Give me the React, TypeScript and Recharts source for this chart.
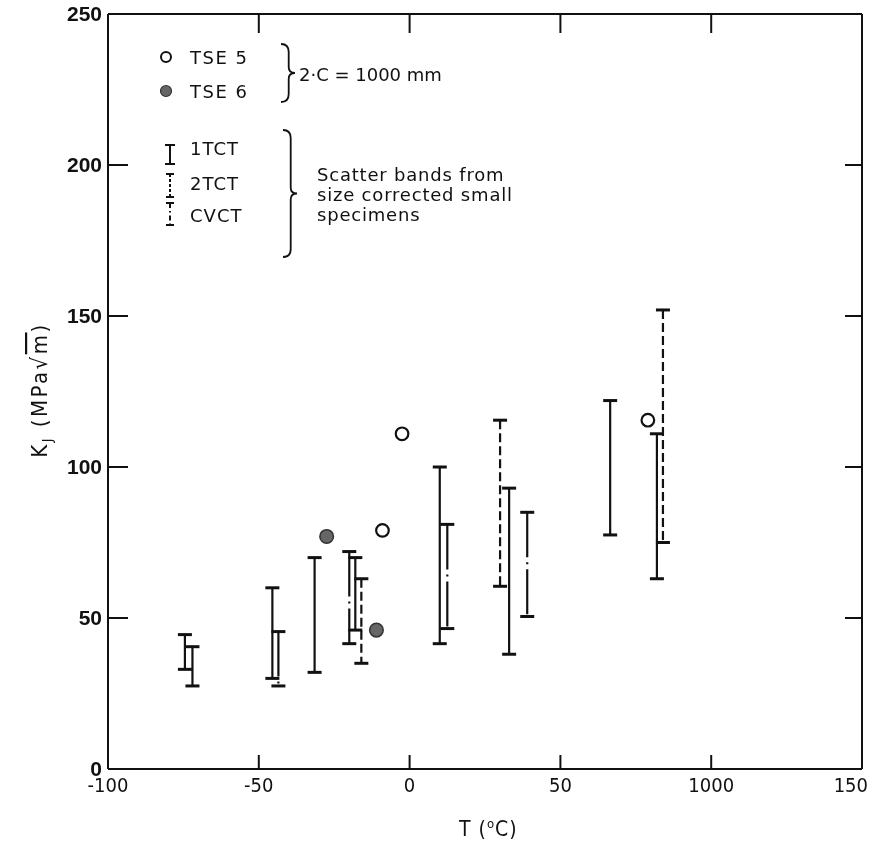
import React from "react";
import { ScatterChart, Scatter, XAxis, YAxis } from "recharts";

// scatter bands (size corrected small specimens): T in °C, lower / upper K_J
const tct1T = [-72, -45.5, -31.5, -18, 10, 33, 66.5, 82];
const tct1Low = [27.5, 30, 32, 46, 41.5, 38, 77.5, 63];
const tct1High = [40.5, 60, 70, 70, 100, 93, 122, 111];

const tct2T = [-16, 30, 84];
const tct2Low = [35, 60.5, 75];
const tct2High = [63, 115.5, 152];

const cvctT = [-74.5, -43.5, -20, 12.5, 39];
const cvctLow = [33, 27.5, 41.5, 46.5, 50.5];
const cvctHigh = [44.5, 45.5, 72, 81, 85];

// large specimens
const tse5T = [-9, -2.5, 79];
const tse5K = [79, 111, 115.5];
const tse6T = [-27.5, -11];
const tse6K = [77, 46];

const xTicks = [-100, -50, 0, 50, 100, 150];
const xTickLabels = ["-100", "-50", "0", "50", "1000", "150"];
const yTicks = [0, 50, 100, 150, 200, 250];

const INK = "#111";
const COND = "'DejaVu Sans Condensed', 'DejaVu Sans', sans-serif";

// each band is drawn top to bottom so the dash pattern starts at the upper cap
const makeBands = (t: number[], lo: number[], hi: number[], dash: string, name: string) =>
  t.map((x, i) => ({
    key: `${name}-${i}`,
    dash,
    data: [
      { t: x, k: hi[i] },
      { t: x, k: lo[i] },
    ],
  }));

const bands = [
  ...makeBands(tct1T, tct1Low, tct1High, "", "1tct"),
  ...makeBands(tct2T, tct2Low, tct2High, "9 4", "2tct"),
  ...makeBands(cvctT, cvctLow, cvctHigh, "45 5 2 5", "cvct"),
];

const tse5 = tse5T.map((t, i) => ({ t, k: tse5K[i] }));
const tse6 = tse6T.map((t, i) => ({ t, k: tse6K[i] }));

const Cap = (props: any) => {
  const { cx, cy } = props;
  return <line x1={cx - 7} x2={cx + 7} y1={cy} y2={cy} stroke={INK} strokeWidth={3} />;
};

const OpenDot = (props: any) => (
  <circle cx={props.cx} cy={props.cy} r={6.3} fill="#fff" stroke={INK} strokeWidth={2.2} />
);

const FilledDot = (props: any) => (
  <circle cx={props.cx} cy={props.cy} r={6.8} fill="#666" stroke="#333" strokeWidth={1.5} />
);

const NoLabel = () => null;

const XTick = (props: any) => {
  const { x, y, payload } = props;
  const last = payload.value === 150;
  return (
    <text
      x={last ? x + 6 : x}
      y={y}
      dy="0.71em"
      textAnchor={last ? "end" : "middle"}
      fill={INK}
      fontSize={20}
      fontFamily={COND}
    >
      {xTickLabels[xTicks.indexOf(payload.value)]}
    </text>
  );
};

// right-facing curly brace
const brace = (x: number, y1: number, y2: number, w: number) => {
  const ym = (y1 + y2) / 2;
  const xm = x + w * 0.55;
  return `M ${x} ${y1} Q ${xm} ${y1} ${xm} ${y1 + 8} L ${xm} ${ym - 6} Q ${xm} ${ym} ${x + w} ${ym} Q ${xm} ${ym} ${xm} ${ym + 6} L ${xm} ${y2 - 8} Q ${xm} ${y2} ${x} ${y2}`;
};

const legendFont = { fontFamily: "'DejaVu Sans', sans-serif", fontSize: 18, fill: INK };

const Overlay = () => (
  <svg
    width={872}
    height={842}
    style={{ position: "absolute", left: 0, top: 0, pointerEvents: "none" }}
  >
    {/* TSE legend */}
    <circle cx={166} cy={57} r={5} fill="#fff" stroke={INK} strokeWidth={2} />
    <text x={190} y={64} {...legendFont} letterSpacing={1.5}>TSE 5</text>
    <circle cx={166} cy={91} r={5.5} fill="#666" stroke="#333" strokeWidth={1.2} />
    <text x={190} y={98} {...legendFont} letterSpacing={1.5}>TSE 6</text>
    <path d={brace(281, 44, 102, 14)} fill="none" stroke={INK} strokeWidth={1.8} />
    <text x={299} y={81} {...legendFont}>2·C = 1000 mm</text>

    {/* scatter band legend */}
    <line x1={170} x2={170} y1={145} y2={164} stroke={INK} strokeWidth={2} />
    <line x1={165} x2={175} y1={145} y2={145} stroke={INK} strokeWidth={2} />
    <line x1={165} x2={175} y1={164} y2={164} stroke={INK} strokeWidth={2} />
    <text x={190} y={155} {...legendFont} letterSpacing={1}>1TCT</text>

    <line x1={170} x2={170} y1={174} y2={197} stroke={INK} strokeWidth={2} strokeDasharray="3 2" />
    <line x1={166} x2={174} y1={174} y2={174} stroke={INK} strokeWidth={2} />
    <line x1={166} x2={174} y1={197} y2={197} stroke={INK} strokeWidth={2} />
    <text x={190} y={190} {...legendFont} letterSpacing={1}>2TCT</text>

    <line x1={170} x2={170} y1={203} y2={225} stroke={INK} strokeWidth={2} strokeDasharray="5 3 1.5 3" />
    <line x1={166} x2={174} y1={203} y2={203} stroke={INK} strokeWidth={2} />
    <line x1={166} x2={174} y1={225} y2={225} stroke={INK} strokeWidth={2} />
    <text x={190} y={222} {...legendFont} letterSpacing={1}>CVCT</text>

    <path d={brace(283, 130, 257, 14)} fill="none" stroke={INK} strokeWidth={1.8} />
    <text x={317} y={181} {...legendFont} letterSpacing={0.8}>Scatter bands from</text>
    <text x={317} y={201} {...legendFont} letterSpacing={0.8}>size corrected small</text>
    <text x={317} y={221} {...legendFont} letterSpacing={0.8}>specimens</text>

    {/* axis titles */}
    <text x={459} y={836} fontFamily={COND} fontSize={21} fill={INK} letterSpacing={1}>
      T  (<tspan dy={-8} fontSize={13}>o</tspan>
      <tspan dy={8}>C)</tspan>
    </text>
    <g transform="translate(47,390) rotate(-90)">
      <text x={0} y={0} textAnchor="middle" fontFamily={COND} fontSize={22} fill={INK} letterSpacing={2.5}>
        K<tspan dy={5} fontSize={14}>J</tspan>
        <tspan dy={-5}>  (MPa√</tspan>
        <tspan style={{ textDecoration: "overline" }}>m</tspan>
        <tspan>)</tspan>
      </text>
    </g>
  </svg>
);

export default function App() {
  return (
    <div style={{ position: "fixed", left: 0, top: 0, width: 872, height: 842 }}>
      <ScatterChart
        width={872}
        height={842}
        margin={{ top: 13, right: 9, bottom: 0, left: 0 }}
      >
        <XAxis
          dataKey="t"
          type="number"
          domain={[-100, 150]}
          ticks={xTicks}
          interval={0}
          height={73}
          tickSize={-14}
          tickMargin={23}
          tick={<XTick />}
          axisLine={{ stroke: INK, strokeWidth: 2 }}
          tickLine={{ stroke: INK, strokeWidth: 2 }}
        />
        <XAxis
          xAxisId="top"
          orientation="top"
          dataKey="t"
          type="number"
          domain={[-100, 150]}
          ticks={xTicks}
          interval={0}
          height={1}
          tickSize={-19}
          tick={<NoLabel />}
          axisLine={{ stroke: INK, strokeWidth: 2 }}
          tickLine={{ stroke: INK, strokeWidth: 2 }}
        />
        <YAxis
          dataKey="k"
          type="number"
          domain={[0, 250]}
          ticks={yTicks}
          interval={0}
          width={108}
          tickSize={-20}
          tickMargin={26}
          axisLine={{ stroke: INK, strokeWidth: 2 }}
          tickLine={{ stroke: INK, strokeWidth: 2 }}
          tick={{
            fill: INK,
            fontSize: 21,
            fontWeight: "bold",
            fontFamily: "'Liberation Sans', sans-serif",
          }}
        />
        <YAxis
          yAxisId="right"
          orientation="right"
          dataKey="k"
          type="number"
          domain={[0, 250]}
          ticks={yTicks}
          interval={0}
          width={1}
          tickSize={-17}
          tick={<NoLabel />}
          axisLine={{ stroke: INK, strokeWidth: 2 }}
          tickLine={{ stroke: INK, strokeWidth: 2 }}
        />

        {bands.map((b) => (
          <Scatter
            key={b.key}
            data={b.data}
            dataKey="k"
            fill={INK}
            line={{ stroke: INK, strokeWidth: 2.2, strokeDasharray: b.dash || undefined }}
            lineType="joint"
            shape={<Cap />}
            isAnimationActive={false}
          />
        ))}

        {/* the TSE points sit on the top/right axes (same domains) so those axes get their ticks */}
        <Scatter
          data={tse5}
          dataKey="k"
          xAxisId="top"
          yAxisId="right"
          shape={<OpenDot />}
          isAnimationActive={false}
        />
        <Scatter
          data={tse6}
          dataKey="k"
          xAxisId="top"
          yAxisId="right"
          shape={<FilledDot />}
          isAnimationActive={false}
        />
      </ScatterChart>
      <Overlay />
    </div>
  );
}
